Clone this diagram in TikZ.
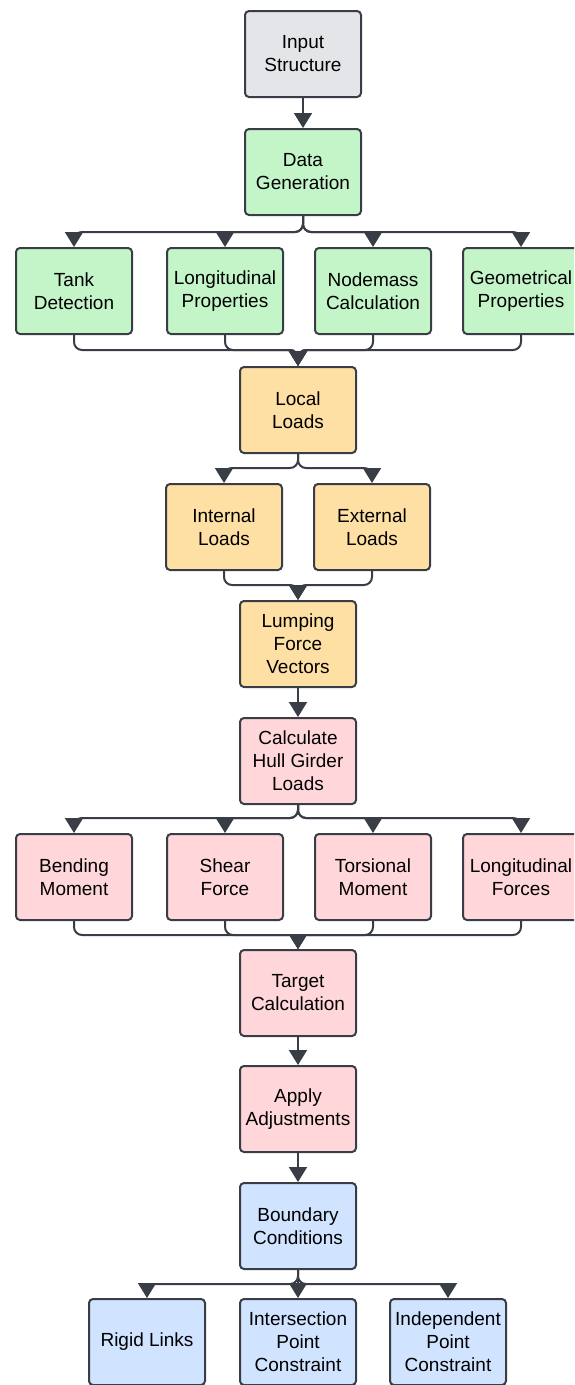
\documentclass[tikz,border=0pt]{standalone}
\usepackage{fontspec}
\setmainfont{Liberation Sans}
\usetikzlibrary{arrows.meta}
\definecolor{edge}{HTML}{393E46}
\definecolor{inputgray}{HTML}{E4E5E9}
\definecolor{genGreen}{HTML}{C4F5C9}
\definecolor{loadOrange}{HTML}{FEDFA4}
\definecolor{hullPink}{HTML}{FFD7DA}
\definecolor{bcBlue}{HTML}{D0E3FF}
\tikzset{
  box/.style={draw=edge, line width=2pt, rounded corners=4pt,
    minimum width=116pt, minimum height=86pt, align=center, inner sep=1pt,
    font=\fontsize{19}{23}\selectfont},
  link/.style={draw=edge, line width=2pt, rounded corners=8pt,
    -{Triangle[width=18pt,length=15pt]}},
}
\begin{document}
\begin{tikzpicture}[x=1pt,y=-1pt]
\useasboundingbox (0,0) rectangle (574,1385);
\clip (0,0) rectangle (574,1385);
% input and data generation
\node[box, fill=inputgray] (input) at (303,54) {Input\\Structure};
\node[box, fill=genGreen] (gen) at (303,172) {Data\\Generation};
\node[box, fill=genGreen] (tank) at (74,291) {Tank\\Detection};
\node[box, fill=genGreen] (longprop) at (225,291) {Longitudinal\\Properties};
\node[box, fill=genGreen] (nodemass) at (373,291) {Nodemass\\Calculation};
\node[box, fill=genGreen] (geom) at (521,291) {Geometrical\\Properties};
% loads
\node[box, fill=loadOrange] (local) at (298,410) {Local\\Loads};
\node[box, fill=loadOrange] (internal) at (224,527) {Internal\\Loads};
\node[box, fill=loadOrange] (external) at (372,527) {External\\Loads};
\node[box, fill=loadOrange] (lumping) at (298,644) {Lumping\\Force\\Vectors};
% hull girder
\node[box, fill=hullPink] (hull) at (298,761) {Calculate\\Hull Girder\\Loads};
\node[box, fill=hullPink] (bending) at (74,877) {Bending\\Moment};
\node[box, fill=hullPink] (shear) at (225,877) {Shear\\Force};
\node[box, fill=hullPink] (torsion) at (373,877) {Torsional\\Moment};
\node[box, fill=hullPink] (longforce) at (521,877) {Longitudinal\\Forces};
\node[box, fill=hullPink] (target) at (298,993) {Target\\Calculation};
\node[box, fill=hullPink] (adjust) at (298,1109) {Apply\\Adjustments};
% boundary conditions
\node[box, fill=bcBlue] (boundary) at (298,1226) {Boundary\\Conditions};
\node[box, fill=bcBlue] (rigid) at (147,1342) {Rigid Links};
\node[box, fill=bcBlue] (intersect) at (298,1342) {Intersection\\Point\\Constraint};
\node[box, fill=bcBlue] (independent) at (448,1342) {Independent\\Point\\Constraint};

\draw[link] (input) -- (gen);
\foreach \n in {tank,longprop,nodemass,geom}
  \draw[link] (gen.south) -- ++(0,16) -| (\n.north);
\foreach \n in {tank,longprop,nodemass,geom}
  \draw[link] (\n.south) -- ++(0,15) -| (local.north);
\foreach \n in {internal,external}
  \draw[link] (local.south) -- ++(0,14) -| (\n.north);
\foreach \n in {internal,external}
  \draw[link] (\n.south) -- ++(0,14) -| (lumping.north);
\draw[link] (lumping) -- (hull);
\foreach \n in {bending,shear,torsion,longforce}
  \draw[link] (hull.south) -- ++(0,13) -| (\n.north);
\foreach \n in {bending,shear,torsion,longforce}
  \draw[link] (\n.south) -- ++(0,14) -| (target.north);
\draw[link] (target) -- (adjust);
\draw[link] (adjust) -- (boundary);
\foreach \n in {rigid,intersect,independent}
  \draw[link] (boundary.south) -- ++(0,14) -| (\n.north);
\end{tikzpicture}
\end{document}
